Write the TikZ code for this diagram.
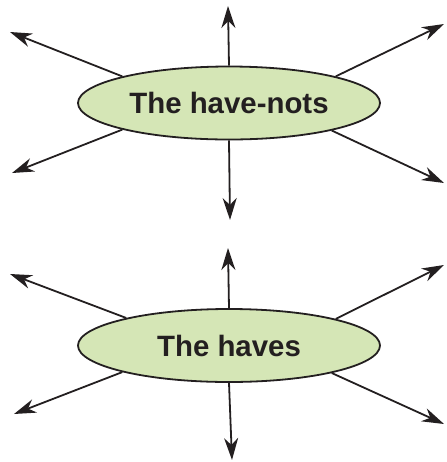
\documentclass[tikz,border=0pt]{standalone}
\usepackage{fontspec}
\setmainfont{Liberation Sans}
\usepackage{xcolor}
\usepackage{tikz}
\usetikzlibrary{arrows.meta,shapes.geometric}
\definecolor{ink}{HTML}{231F20}
\definecolor{leaf}{HTML}{D5E6B6}

\begin{document}
\begin{tikzpicture}[x=0.5pt,y=-0.5pt,
  blob/.style={ellipse,draw=ink,fill=leaf,line width=0.9pt,
               minimum width=151pt,minimum height=36.5pt,inner sep=0pt,
               font=\fontsize{14.7}{16}\selectfont\bfseries,text=ink},
  ray/.style={-{Stealth[length=11pt,width=7pt,inset=3.5pt]},draw=ink,line width=0.9pt}
]
\useasboundingbox (0,0) rectangle (446,462);
% upper group
\node[blob] (hn) at (229,103) {The have-nots};
\coordinate (hnU) at (228,6);
\coordinate (hnD) at (230,220);
\coordinate (hnUL) at (10,32);
\coordinate (hnUR) at (444,24);
\coordinate (hnLL) at (12,173);
\coordinate (hnLR) at (444,183);
\draw[ray] (hn.north) -- (hnU);
\draw[ray] (hn.south) -- (hnD);
\draw[ray] (hn.166) -- (hnUL);
\draw[ray] (hn.14) -- (hnUR);
\draw[ray] (hn.194.4) -- (hnLL);
\draw[ray] (hn.345.2) -- (hnLR);
% lower group
\node[blob] (hv) at (229,345.5) {The haves};
\coordinate (hvU) at (228,248);
\coordinate (hvD) at (232,460);
\coordinate (hvUL) at (10,274);
\coordinate (hvUR) at (444,265);
\coordinate (hvLL) at (14,414);
\coordinate (hvLR) at (444,424);
\draw[ray] (hv.north) -- (hvU);
\draw[ray] (hv.south) -- (hvD);
\draw[ray] (hv.165.5) -- (hvUL);
\draw[ray] (hv.14.5) -- (hvUR);
\draw[ray] (hv.194) -- (hvLL);
\draw[ray] (hv.345.7) -- (hvLR);
\end{tikzpicture}
\end{document}
